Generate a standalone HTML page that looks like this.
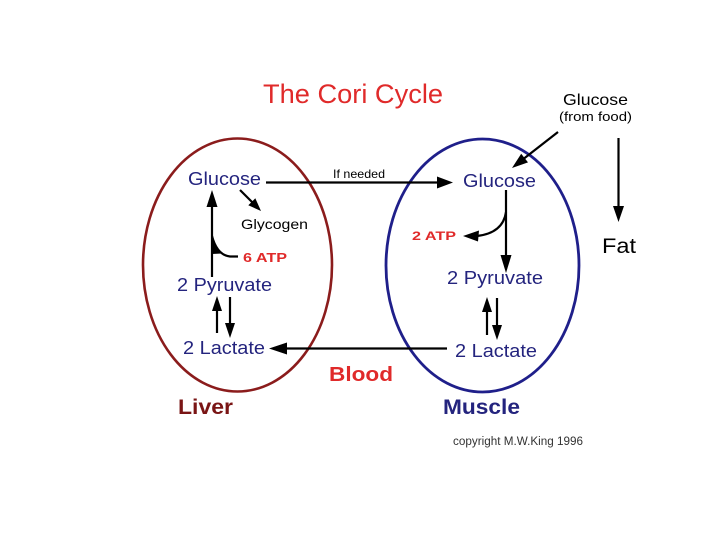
<!DOCTYPE html>
<html><head><meta charset="utf-8"><style>
html,body{margin:0;padding:0;background:#fff;}
svg{display:block;}
text{font-family:"Liberation Sans",Arial,sans-serif;}
</style></head><body>
<svg width="720" height="540" viewBox="0 0 720 540" xmlns="http://www.w3.org/2000/svg">
<rect width="720" height="540" fill="#fff"/>
<!-- ellipses -->
<ellipse cx="237.5" cy="265" rx="94.5" ry="126.5" fill="none" stroke="#8b1c1c" stroke-width="2.6"/>
<ellipse cx="482.5" cy="265.5" rx="96.5" ry="126.5" fill="none" stroke="#1f1f8a" stroke-width="2.8"/>

<!-- title -->
<text x="263" y="103" font-size="27" fill="#e02a2a" textLength="180" lengthAdjust="spacingAndGlyphs">The Cori Cycle</text>

<!-- liver texts -->
<text x="188" y="185" font-size="18" fill="#24247e" textLength="73" lengthAdjust="spacingAndGlyphs">Glucose</text>
<text x="241" y="229" font-size="14" fill="#000" textLength="67" lengthAdjust="spacingAndGlyphs">Glycogen</text>
<text x="243" y="262" font-size="13" font-weight="bold" fill="#e02a2a" textLength="44" lengthAdjust="spacingAndGlyphs">6 ATP</text>
<text x="177" y="291" font-size="18" fill="#24247e" textLength="95" lengthAdjust="spacingAndGlyphs">2 Pyruvate</text>
<text x="183" y="354" font-size="18" fill="#24247e" textLength="82" lengthAdjust="spacingAndGlyphs">2 Lactate</text>
<text x="178" y="414" font-size="21" font-weight="bold" fill="#7a1515" textLength="55" lengthAdjust="spacingAndGlyphs">Liver</text>

<!-- middle -->
<text x="333" y="178" font-size="12" fill="#000" textLength="52" lengthAdjust="spacingAndGlyphs">If needed</text>
<text x="329" y="381" font-size="20.5" font-weight="bold" fill="#e02a2a" textLength="64" lengthAdjust="spacingAndGlyphs">Blood</text>

<!-- muscle texts -->
<text x="463" y="187" font-size="18" fill="#24247e" textLength="73" lengthAdjust="spacingAndGlyphs">Glucose</text>
<text x="412" y="240" font-size="12" font-weight="bold" fill="#e02a2a" textLength="44" lengthAdjust="spacingAndGlyphs">2 ATP</text>
<text x="447" y="284" font-size="18" fill="#24247e" textLength="96" lengthAdjust="spacingAndGlyphs">2 Pyruvate</text>
<text x="455" y="357" font-size="18" fill="#24247e" textLength="82" lengthAdjust="spacingAndGlyphs">2 Lactate</text>
<text x="443" y="414" font-size="21" font-weight="bold" fill="#24247e" textLength="77" lengthAdjust="spacingAndGlyphs">Muscle</text>

<!-- right side -->
<text x="563" y="105" font-size="16" fill="#000" textLength="65" lengthAdjust="spacingAndGlyphs">Glucose</text>
<text x="559" y="121" font-size="13" fill="#000" textLength="73" lengthAdjust="spacingAndGlyphs">(from food)</text>
<text x="602" y="253" font-size="21" fill="#000" textLength="34" lengthAdjust="spacingAndGlyphs">Fat</text>
<text x="453" y="445" font-size="11.5" fill="#333" textLength="130" lengthAdjust="spacingAndGlyphs">copyright M.W.King 1996</text>

<!-- connectors -->
<g stroke="#000" stroke-width="2.2" fill="none">
  <line x1="266" y1="182.5" x2="438" y2="182.5"/>
  <line x1="447" y1="348.5" x2="286" y2="348.5"/>
  <line x1="212" y1="277" x2="212" y2="206"/>
  <line x1="240" y1="190" x2="253" y2="203"/>
  <line x1="217" y1="333" x2="217" y2="310"/>
  <line x1="230" y1="297" x2="230" y2="324"/>
  <line x1="506" y1="190" x2="506" y2="256"/>
  <path d="M506,212 Q503,233 477,236"/>
  <line x1="487" y1="335" x2="487" y2="311"/>
  <line x1="497" y1="298" x2="497" y2="326"/>
  <line x1="558" y1="132" x2="524" y2="158.5"/>
  <line x1="618.5" y1="138" x2="618.5" y2="207"/>
  <path d="M238,256.5 L230,256.5 Q217,255 212,236"/>
</g>
<g fill="#000">
  <polygon points="453,182.5 437,176.5 437,188.5"/>
  <polygon points="269,348.5 287,342.5 287,354.5"/>
  <polygon points="212,190 206.5,207 217.5,207"/>
  <polygon points="261,211 255.3,198.3 248.3,205.3"/>
  <polygon points="217,296 212,311 222,311"/>
  <polygon points="230,338 225,323 235,323"/>
  <polygon points="506,273 500.5,255 511.5,255"/>
  <polygon points="463,236 479,230.5 478,241.5"/>
  <polygon points="487,297 482,312 492,312"/>
  <polygon points="497,340 492,325 502,325"/>
  <polygon points="512,168 528,162.4 521.2,153.8"/>
  <polygon points="618.5,222 613,206 624,206"/>
  <!-- 6 ATP wedge near line -->
  <path d="M212,238 Q215,250 222,253.5 L212,254 Z"/>
</g>
</svg>
</body></html>
